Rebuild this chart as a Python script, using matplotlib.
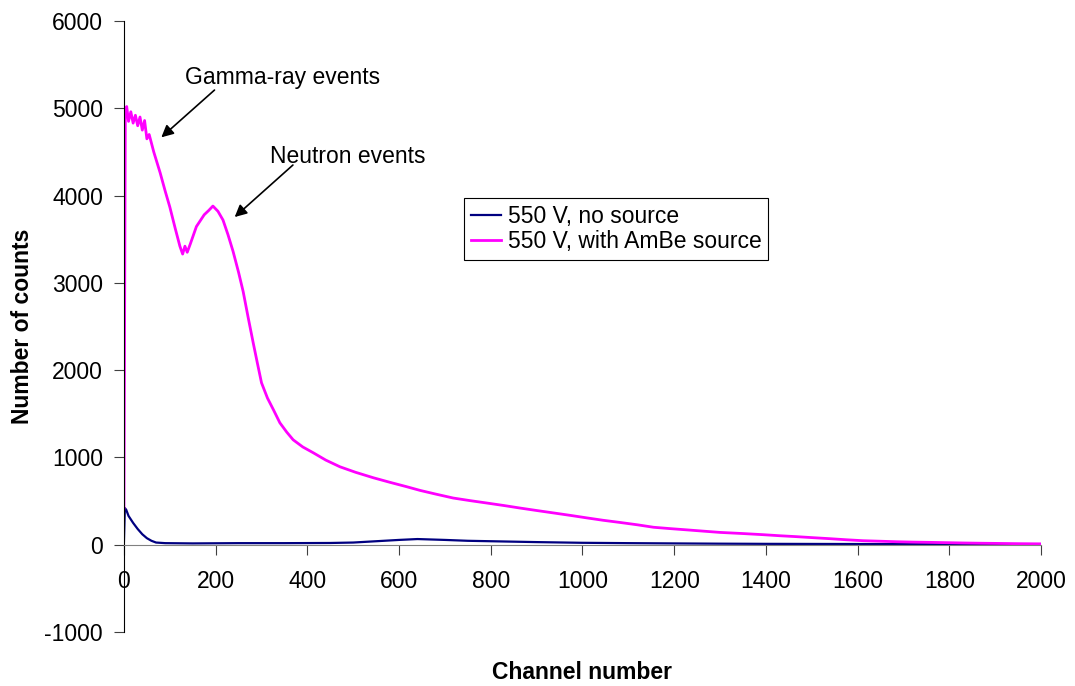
import matplotlib
matplotlib.use('Agg')
import matplotlib.pyplot as plt

plt.rcParams['font.family'] = ['Liberation Sans', 'DejaVu Sans']
plt.rcParams['axes.unicode_minus'] = False

# 550 V, no source
bg_channel = [0, 2, 5, 10, 20, 30, 40, 50, 60, 70, 90, 150, 250, 350, 450, 500, 550,
              600, 640, 700, 750, 800, 900, 1000, 1100, 1200, 1300, 1400, 1600, 1800, 2000]
bg_counts = [40, 420, 400, 330, 250, 180, 120, 75, 45, 25, 18, 15, 18, 18, 20, 25, 40,
             55, 65, 55, 45, 40, 30, 22, 18, 15, 12, 10, 8, 6, 5]

# 550 V, with AmBe source
ambe_channel = [0, 3, 6, 10, 15, 20, 25, 30, 35, 40, 45, 50, 55, 65, 79, 90, 100, 112,
                122, 128, 133, 138, 145, 158, 175, 185, 194, 205, 216, 227, 238, 250,
                260, 271, 282, 291, 300, 313, 326, 340, 355, 369, 390, 413, 440, 471,
                505, 544, 580, 617, 646, 680, 718, 755, 791, 830, 864, 900, 937, 975,
                1010, 1045, 1082, 1120, 1155, 1190, 1228, 1265, 1300, 1350, 1394, 1430,
                1468, 1505, 1540, 1575, 1612, 1650, 1686, 1720, 1758, 1800, 1830, 1870,
                1904, 1950, 2000]
ambe_counts = [420, 4950, 5020, 4850, 4960, 4830, 4920, 4800, 4900, 4750, 4860, 4650,
               4700, 4500, 4260, 4050, 3870, 3620, 3420, 3330, 3420, 3350, 3450, 3645,
               3780, 3830, 3880, 3820, 3720, 3550, 3360, 3120, 2900, 2600, 2310, 2080,
               1855, 1680, 1546, 1397, 1290, 1202, 1120, 1053, 970, 893, 830, 767, 715,
               664, 622, 580, 535, 505, 478, 448, 420, 392, 364, 335, 307, 280, 255,
               228, 200, 185, 170, 155, 141, 128, 115, 103, 92, 80, 69, 57, 46, 40, 34,
               30, 27, 23, 20, 17, 15, 12, 10]

x_ticks = [0, 200, 400, 600, 800, 1000, 1200, 1400, 1600, 1800, 2000]
y_ticks = [-1000, 0, 1000, 2000, 3000, 4000, 5000, 6000]

fs = 16.5

fig = plt.figure(figsize=(10.75, 6.86), dpi=100)
ax = fig.add_axes([0.1153, 0.0787, 0.8531, 0.8907])

ax.plot(bg_channel, bg_counts, color='#000080', linewidth=1.6, label='550 V, no source')
ax.plot(ambe_channel, ambe_counts, color='#ff00ff', linewidth=2.0, label='550 V, with AmBe source')

ax.set_xlim(0, 2000)
ax.set_ylim(-1000, 6000)
ax.set_xticks(x_ticks)
ax.set_yticks(y_ticks)

# Excel-like axes: x axis crosses at y = 0
ax.spines['top'].set_visible(False)
ax.spines['right'].set_visible(False)
ax.spines['bottom'].set_position(('data', 0))
ax.spines['bottom'].set_color('#808080')
ax.spines['left'].set_color('black')
ax.tick_params(axis='both', direction='out', length=7, labelsize=fs, color='#404040')
ax.tick_params(axis='x', pad=11)
ax.tick_params(axis='y', pad=8)

ax.set_xlabel('Channel number', fontsize=fs, fontweight='bold', va='center')
ax.xaxis.set_label_coords(0.5, -0.067)
ax.set_ylabel('Number of counts', fontsize=fs, fontweight='bold', va='center')
ax.yaxis.set_label_coords(-0.111, 0.5)

# annotations
ax.text(133, 5348, 'Gamma-ray events', fontsize=fs, va='center', ha='left')
ax.annotate('', xy=(77, 4646), xytext=(202, 5230),
            arrowprops=dict(arrowstyle='-|>', color='black', lw=1.2, mutation_scale=18))
ax.text(318, 4446, 'Neutron events', fontsize=fs, va='center', ha='left')
ax.annotate('', xy=(237, 3733), xytext=(373, 4371),
            arrowprops=dict(arrowstyle='-|>', color='black', lw=1.2, mutation_scale=18))

leg = ax.legend(loc='upper left', bbox_to_anchor=(0.371, 0.710), borderaxespad=0,
                fontsize=fs, fancybox=False, edgecolor='black', framealpha=1,
                handlelength=1.3, handletextpad=0.3, borderpad=0.3, labelspacing=0.1)
leg.get_frame().set_linewidth(0.8)

fig.savefig('out.png', dpi=100)
